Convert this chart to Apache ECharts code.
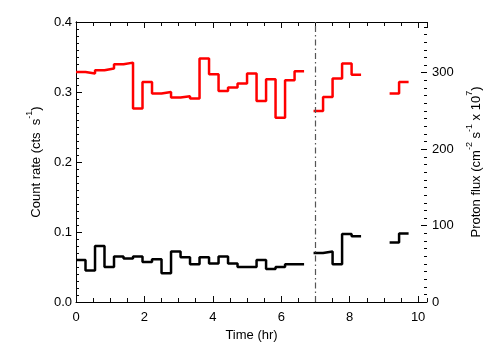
<!DOCTYPE html>
<html>
<head>
<meta charset="utf-8">
<script src="https://cdn.jsdelivr.net/npm/echarts/dist/echarts.min.js"></script>
<style>html,body{margin:0;padding:0;background:#fff}#c{width:504px;height:360px}</style>
</head>
<body>
<div id="c"></div>
<script>
// Time-bin edges (hr), 1000 s bins
const timeEdges = [0.000,0.278,0.556,0.833,1.111,1.389,1.667,1.944,2.222,2.500,2.778,3.056,3.333,3.611,3.889,4.167,4.444,4.722,5.000,5.278,5.556,5.833,6.111,6.389,6.667,6.944,7.222,7.500,7.778,8.056,8.333,8.611,8.889,9.167,9.444,9.722];
// Count rate per bin (cts/s), null = no data
const countRate = [0.060,0.045,0.080,0.050,0.065,0.062,0.065,0.057,0.061,0.041,0.072,0.064,0.054,0.064,0.055,0.065,0.055,0.050,0.050,0.060,0.047,0.050,0.054,0.054,null,0.070,0.072,0.054,0.097,0.094,null,null,null,0.085,0.098];
// Proton flux per bin (cm^-2 s^-1 x 10^7)
const protonFlux = [300.6,298.6,302.9,305.1,310.7,312.9,252.8,287.6,272.4,274.5,267.2,268.9,265.9,318.2,297.6,275.8,280.3,285.5,298.6,262.7,291.1,241.0,289.8,301.6,null,249.7,268.0,292.0,311.6,297.2,null,null,null,272.4,287.6];
const markerTime = 7.0;
const xTickLabels = ['0','2','4','6','8','10'];
const leftTickLabels = ['0.0','0.1','0.2','0.3','0.4'];
const rightTickLabels = ['0','100','200','300'];
const leftMajorTicks = [0, 0.1, 0.2, 0.3, 0.4];
const rightTicks = [0,10,20,30,40,50,60,70,80,90,100,110,120,130,140,150,160,170,180,190,200,210,220,230,240,250,260,270,280,290,300,310,320,330,340,350,360];

function stepData(vals){
  const out = [];
  for (let i = 0; i < vals.length; i++) {
    const v = vals[i];
    if (v === null) continue;
    out.push([timeEdges[i], v]);
    if (i === vals.length - 1 || vals[i+1] === null) {
      out.push([timeEdges[i+1], v]);
      out.push([timeEdges[i+1], '-']);
    }
  }
  return out;
}

const FONT = 'Liberation Sans, Arial, sans-serif';
const TICK = '#0a0a0a';
const X_MAX = 10.26, R_MAX = 366;
const axLine = () => ({show:true, lineStyle:{color:'#000', width:1}});
const noLine = () => ({show:false});
const tick = (len) => ({show:true, inside:true, length:len, lineStyle:{color:TICK, width:1}});
function xAx(pos, interval, len, labels, extra){
  return Object.assign({
    type:'value', position:pos, min:0, max:X_MAX, interval:interval,
    axisLine: (labels || (pos==='top' && interval===2)) ? axLine() : noLine(),
    axisTick: tick(len),
    axisLabel: labels ? {show:true, showMaxLabel:false, color:'#000', fontFamily:FONT, fontSize:13, margin:9,
      formatter: v => xTickLabels[Math.round(v/2)] ?? ''} : {show:false},
    splitLine:{show:false}
  }, extra||{});
}
const richSup = {n:{fontFamily:FONT, fontSize:13, color:'#000', lineHeight:18, verticalAlign:'bottom'},
                 s:{fontFamily:FONT, fontSize:9, color:'#000', lineHeight:10, verticalAlign:'top'}};

// tick marks drawn through the axis scales (y-axis ticks)
function tickSeries(values, yIdx, atX, dir, lenFn){
  return {
    type:'custom', xAxisIndex:0, yAxisIndex:yIdx, silent:true, clip:false, z:5,
    data: values.map(v => [atX, v]),
    renderItem: (params, api) => {
      const p = api.coord([api.value(0), api.value(1)]);
      const y = Math.round(p[1]) + 0.5;
      const L = lenFn(api.value(1));
      return {type:'line', shape:{x1:p[0], y1:y, x2:p[0] + dir*L, y2:y},
              style:{stroke:'#000', lineWidth:1}};
    }
  };
}

const option = {
  animation:false,
  backgroundColor:'#fff',
  grid:{left:76, right:77, top:22, bottom:58, containLabel:false},
  xAxis:[
    xAx('bottom', 2, 6, true, {name:'Time (hr)', nameLocation:'middle', nameGap:26,
      nameTextStyle:{color:'#000', fontFamily:FONT, fontSize:13}}),
    xAx('bottom', 0.5, 4, false),
    xAx('top', 2, 6, false),
    xAx('top', 0.5, 4, false)
  ],
  yAxis:[
    {type:'value', position:'left', min:0, max:0.4, interval:0.1,
     axisLine:axLine(),
     axisTick:tick(6),
     minorTick:{show:true, splitNumber:10, length:3, lineStyle:{color:TICK, width:1}},
     axisLabel:{color:'#000', fontFamily:FONT, fontSize:13, margin:4,
       formatter: v => leftTickLabels[Math.round(v*10)] ?? ''},
     splitLine:{show:false},
     name:'{n|Count rate (cts  s}{s|-1}{n|)}', nameLocation:'middle', nameGap:28, nameRotate:90,
     nameTextStyle:{color:'#000', fontFamily:FONT, fontSize:13, rich:richSup}
    },
    {type:'value', position:'right', min:0, max:R_MAX, interval:100,
     axisLine:axLine(),
     axisTick:{show:false},
     axisLabel:{color:'#000', fontFamily:FONT, fontSize:13, margin:5, showMaxLabel:false,
       formatter: v => rightTickLabels[Math.round(v/100)] ?? ''},
     splitLine:{show:false},
     name:'{n|Proton flux (cm}{s|-2}{n| s}{s|-1}{n| x 10}{s|7}{n|)}', nameLocation:'middle', nameGap:28, nameRotate:90,
     nameTextStyle:{color:'#000', fontFamily:FONT, fontSize:13, rich:richSup}
    }
  ],
  series:[
    {type:'line', name:'Count rate', xAxisIndex:0, yAxisIndex:0, step:'end', showSymbol:false,
     data: stepData(countRate), connectNulls:false,
     lineStyle:{color:'#000', width:2.5}, itemStyle:{color:'#000'},
     markLine:{silent:true, symbol:'none', label:{show:false},
       lineStyle:{type:[6,3,1.5,3], color:'#555', width:1.2},
       data:[{xAxis:markerTime}]}
    },
    {type:'line', name:'Proton flux', xAxisIndex:0, yAxisIndex:1, step:'end', showSymbol:false,
     data: stepData(protonFlux), connectNulls:false,
     lineStyle:{color:'#ff0000', width:2.5}, itemStyle:{color:'#ff0000'}},
    tickSeries(leftMajorTicks, 0, 0, 1, () => 6),
    tickSeries(rightTicks, 1, X_MAX, -1, v => (v % 100 === 0 ? 6 : 3))
  ]
};
const chart = echarts.init(document.getElementById('c'), null, {renderer:'canvas'});
chart.setOption(option);
</script>
</body>
</html>
